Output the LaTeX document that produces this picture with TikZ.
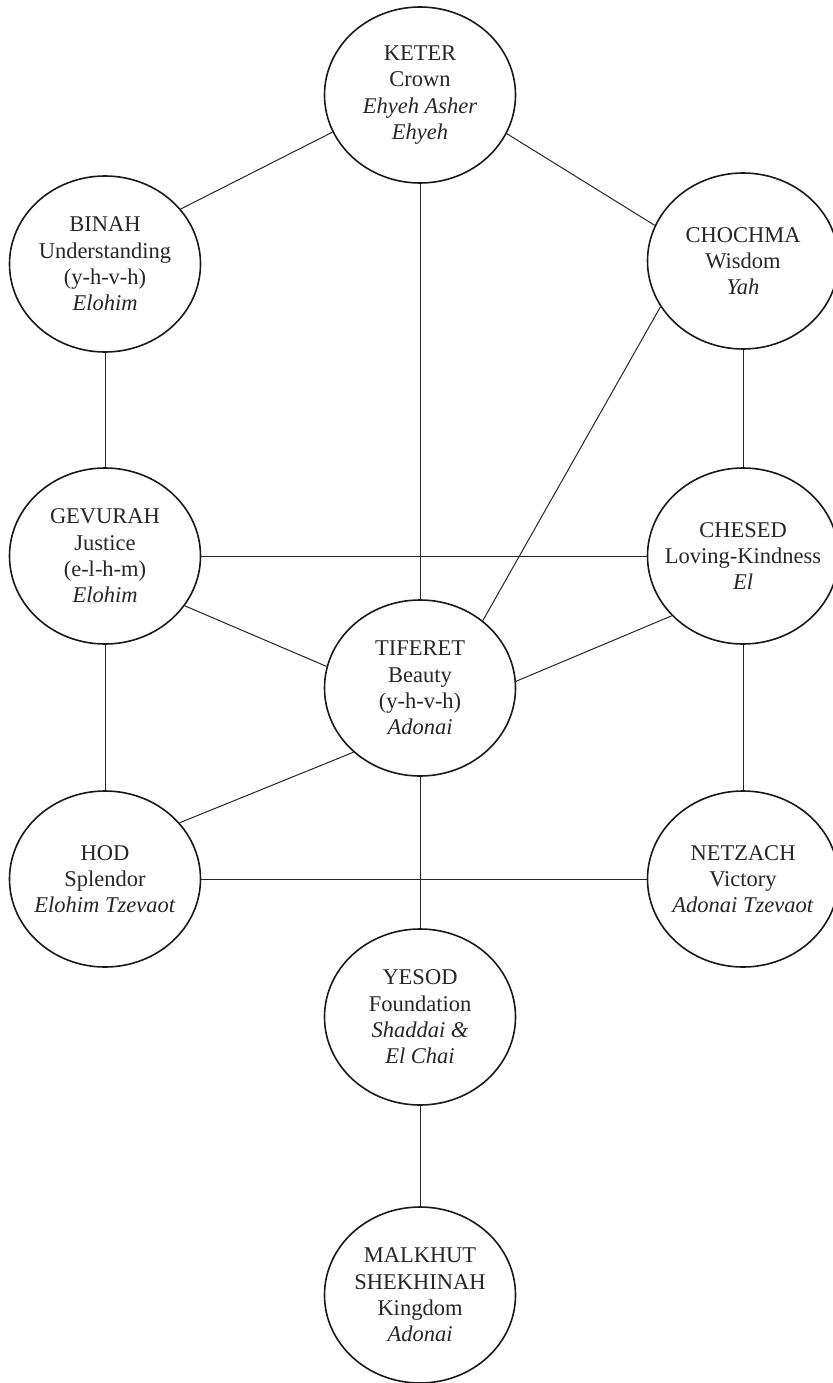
\documentclass[tikz,border=0pt]{standalone}
\usepackage{fontspec}
\setmainfont{Liberation Serif}
\usepackage{tikz}
\usetikzlibrary{shapes}
\tikzset{every picture/.style={line width=1pt}}
\tikzset{sefira/.style={ellipse, draw=black!90, line width=1.6pt, minimum width=191pt, minimum height=176pt, inner sep=-25pt, align=center, text=black!85, font=\fontsize{22.5}{26.3}\selectfont}}
\tikzset{path/.style={draw=black!85, line width=1pt}}

\begin{document}
\begin{tikzpicture}[x=1pt,y=-1pt]
\useasboundingbox (0,0) rectangle (832,1383);
\node[sefira] (keter) at (420,95) {KETER\\Crown\\\emph{Ehyeh Asher}\\\emph{Ehyeh}};
\node[sefira] (binah) at (105,264) {BINAH\\Understanding\\(y-h-v-h)\\\emph{Elohim}};
\node[sefira] (chochma) at (743,261) {CHOCHMA\\Wisdom\\\emph{Yah}};
%
\node[sefira] (gevurah) at (105,556) {GEVURAH\\Justice\\(e-l-h-m)\\\emph{Elohim}};
\node[sefira] (chesed) at (743,556) {CHESED\\Loving-Kindness\\\emph{El}};
\node[sefira] (tiferet) at (420,688) {TIFERET\\Beauty\\(y-h-v-h)\\\emph{Adonai}};
%
\node[sefira] (hod) at (105,879) {HOD\\Splendor\\\emph{Elohim Tzevaot}};
\node[sefira] (netzach) at (743,879) {NETZACH\\Victory\\\emph{Adonai Tzevaot}};
\node[sefira] (yesod) at (420,1017) {YESOD\\Foundation\\\emph{Shaddai \&}\\\emph{El Chai}};
\node[sefira] (malkhut) at (420,1295) {MALKHUT\\SHEKHINAH\\Kingdom\\\emph{Adonai}};
%
\draw[path] (keter.203) -- (binah.36);
\draw[path] (keter.-24) -- (chochma.158);
\draw[path] (keter) -- (tiferet);
\draw[path] (binah) -- (gevurah);
\draw[path] (chochma) -- (chesed);
\draw[path] (chochma.209) -- (tiferet.47);
\draw[path] (gevurah) -- (chesed);
\draw[path] (gevurah.-32) -- (tiferet.167);
\draw[path] (tiferet.4) -- (chesed.220);
\draw[path] (gevurah) -- (hod);
\draw[path] (chesed) -- (netzach);
\draw[path] (tiferet.224) -- (hod.37);
\draw[path] (hod) -- (netzach);
\draw[path] (tiferet) -- (yesod);
\draw[path] (yesod) -- (malkhut);
\end{tikzpicture}
\end{document}
